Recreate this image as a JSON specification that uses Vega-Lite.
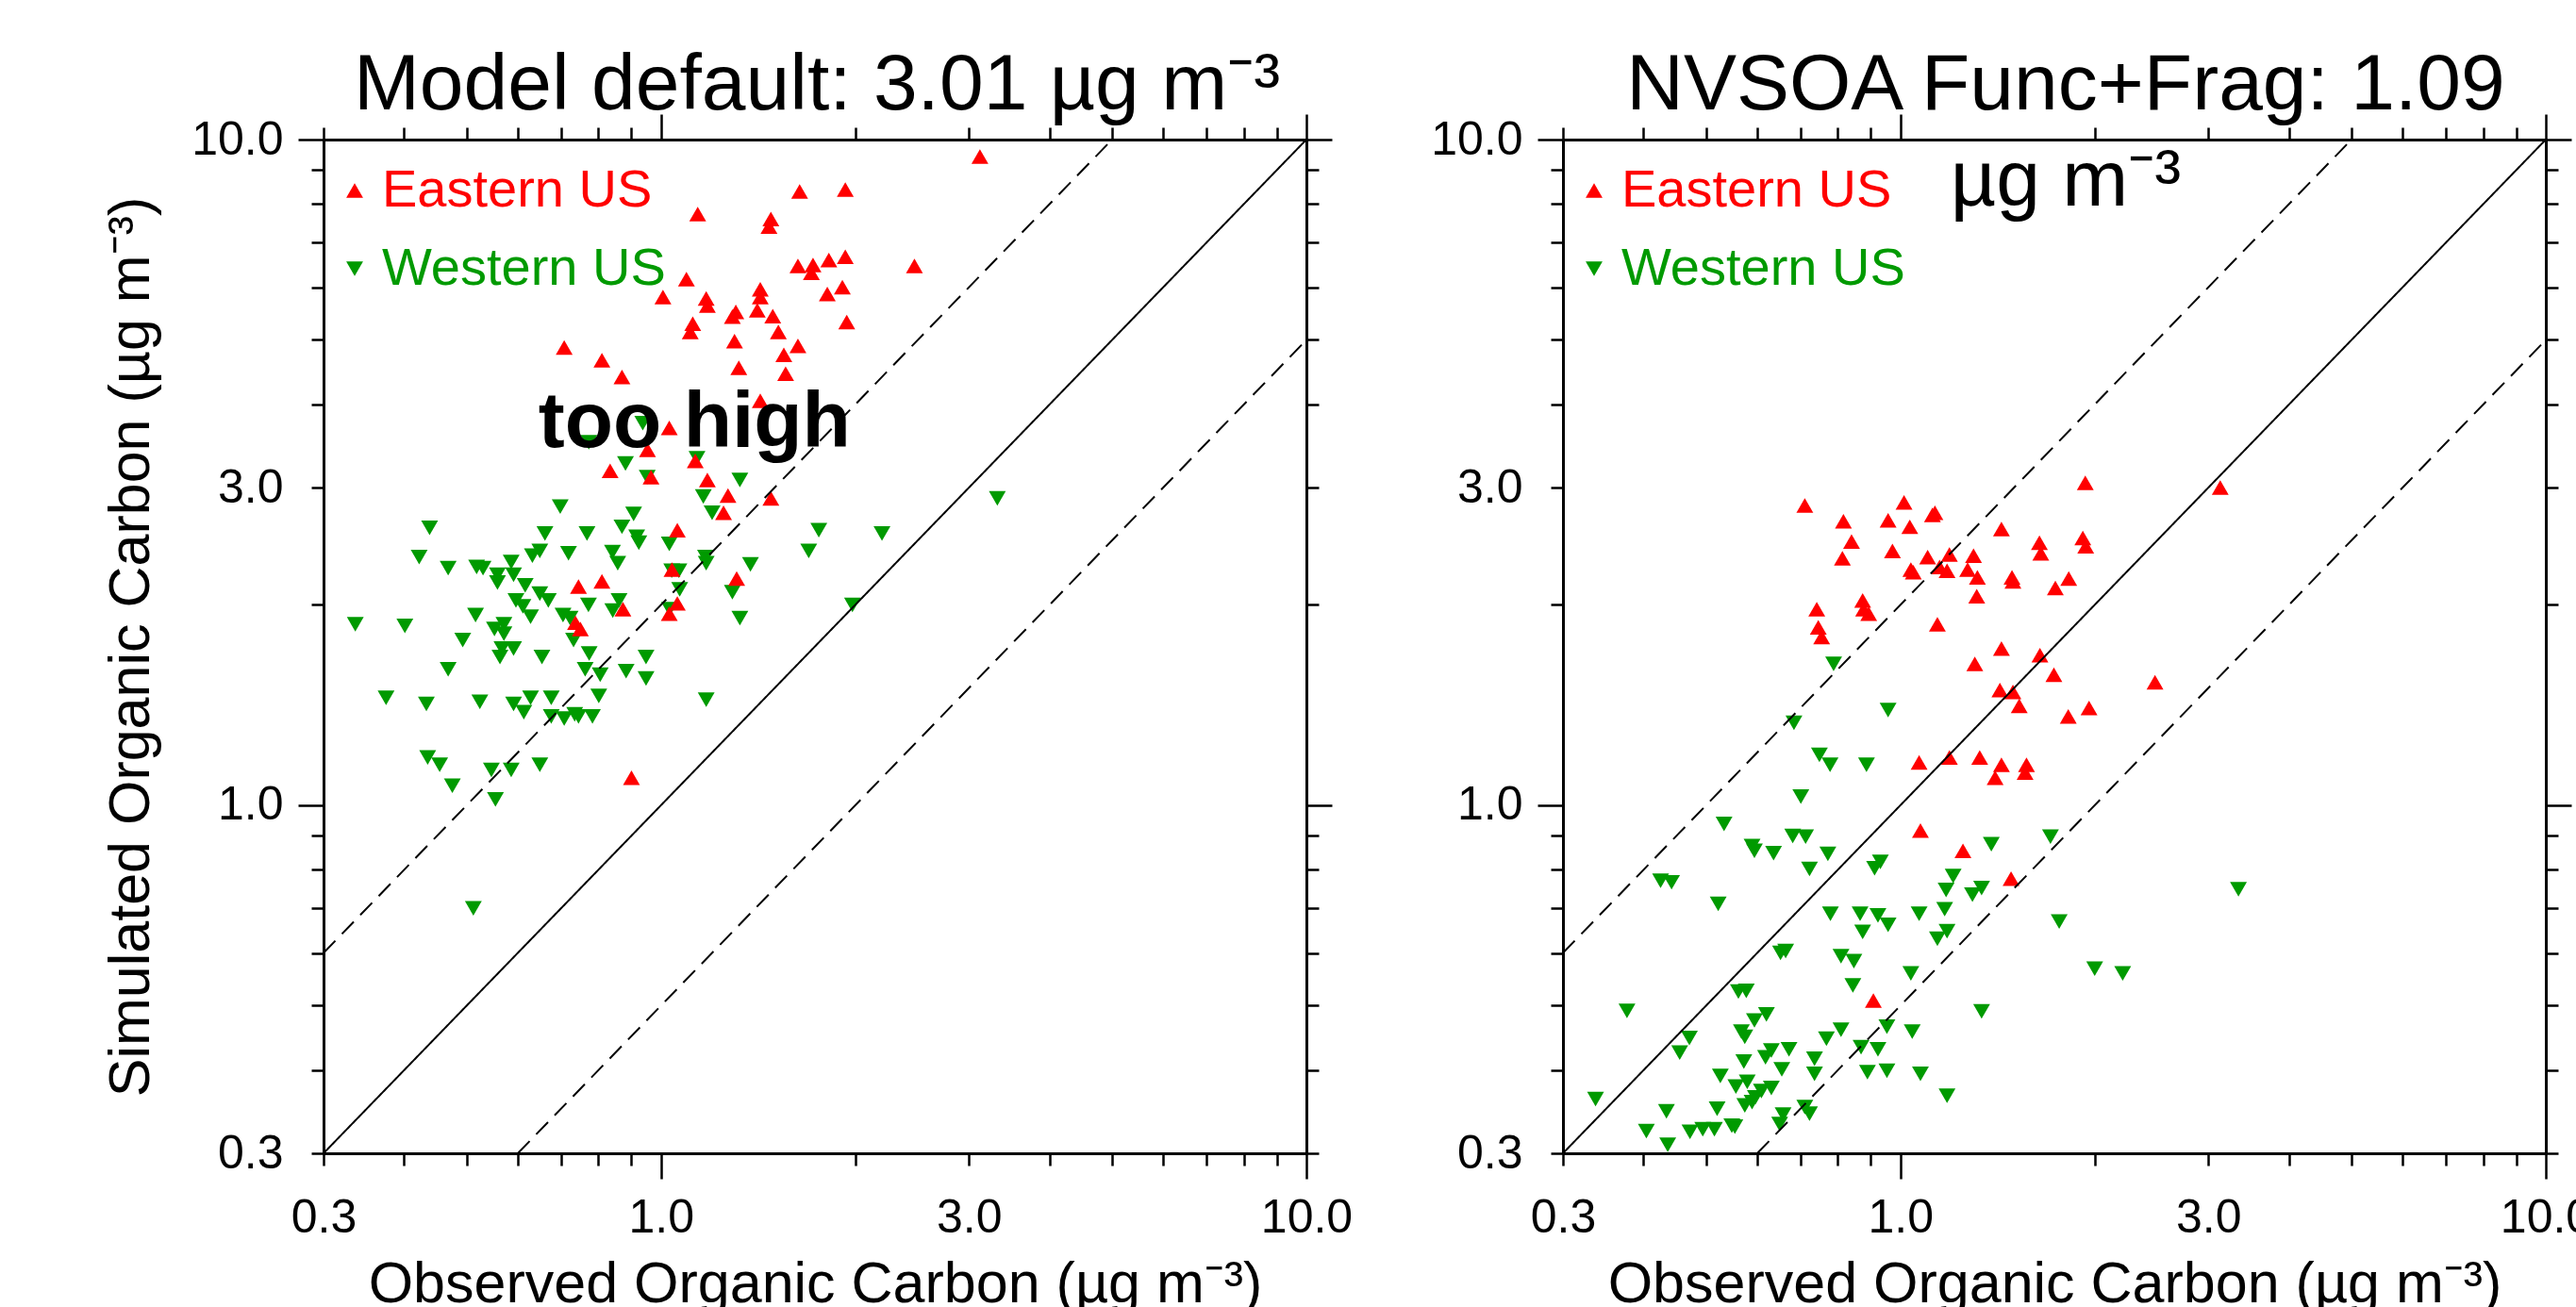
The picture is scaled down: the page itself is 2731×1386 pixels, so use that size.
{
  "$schema": "https://vega.github.io/schema/vega-lite/v6.json",
  "padding": {"left": 108, "top": 48, "right": 0, "bottom": 0},
  "background": "white",
  "config": {
    "view": {"stroke": null},
    "font": "Liberation Sans",
    "axis": {"labelFont": "Liberation Sans", "labelFontSize": 50, "labelColor": "black", "titleFont": "Liberation Sans", "titleFontSize": 61, "titleFontWeight": "normal", "titleColor": "black", "domainColor": "black", "domainWidth": 3, "tickColor": "black", "tickWidth": 2.5, "grid": false},
    "title": {"font": "Liberation Sans", "fontSize": 84, "fontWeight": "normal", "color": "black"}
  },
  "datasets": {
    "lines": [
      {"x": 0.3, "y": 0.3, "line": "1:1"}, {"x": 10, "y": 10, "line": "1:1"},
      {"x": 0.3, "y": 0.6, "line": "2:1"}, {"x": 5, "y": 10, "line": "2:1"},
      {"x": 0.6, "y": 0.3, "line": "1:2"}, {"x": 10, "y": 5, "line": "1:2"}
    ],
    "left": [
      {"obs":0.937,"sim":3.75,"region":"Western US"},{"obs":0.773,"sim":3.51,"region":"Western US"},{"obs":0.881,"sim":3.26,"region":"Western US"},{"obs":1.137,"sim":3.32,"region":"Western US"},{"obs":0.952,"sim":3.11,"region":"Western US"},{"obs":1.325,"sim":3.08,"region":"Western US"},{"obs":1.163,"sim":2.91,"region":"Western US"},{"obs":1.20,"sim":2.75,"region":"Western US"},{"obs":0.698,"sim":2.81,"region":"Western US"},{"obs":0.907,"sim":2.74,"region":"Western US"},{"obs":0.438,"sim":2.61,"region":"Western US"},{"obs":0.661,"sim":2.56,"region":"Western US"},{"obs":0.768,"sim":2.56,"region":"Western US"},{"obs":0.870,"sim":2.62,"region":"Western US"},{"obs":0.917,"sim":2.53,"region":"Western US"},{"obs":0.924,"sim":2.48,"region":"Western US"},{"obs":1.03,"sim":2.47,"region":"Western US"},{"obs":1.756,"sim":2.59,"region":"Western US"},{"obs":2.20,"sim":2.56,"region":"Western US"},{"obs":1.694,"sim":2.41,"region":"Western US"},{"obs":0.422,"sim":2.36,"region":"Western US"},{"obs":0.468,"sim":2.27,"region":"Western US"},{"obs":0.518,"sim":2.28,"region":"Western US"},{"obs":0.530,"sim":2.27,"region":"Western US"},{"obs":0.586,"sim":2.32,"region":"Western US"},{"obs":0.558,"sim":2.22,"region":"Western US"},{"obs":0.558,"sim":2.16,"region":"Western US"},{"obs":0.591,"sim":2.22,"region":"Western US"},{"obs":0.632,"sim":2.37,"region":"Western US"},{"obs":0.649,"sim":2.41,"region":"Western US"},{"obs":0.719,"sim":2.39,"region":"Western US"},{"obs":0.841,"sim":2.40,"region":"Western US"},{"obs":0.857,"sim":2.31,"region":"Western US"},{"obs":1.172,"sim":2.36,"region":"Western US"},{"obs":1.175,"sim":2.31,"region":"Western US"},{"obs":1.039,"sim":2.25,"region":"Western US"},{"obs":1.066,"sim":2.25,"region":"Western US"},{"obs":1.376,"sim":2.30,"region":"Western US"},{"obs":0.616,"sim":2.14,"region":"Western US"},{"obs":0.649,"sim":2.08,"region":"Western US"},{"obs":0.669,"sim":2.03,"region":"Western US"},{"obs":0.596,"sim":2.03,"region":"Western US"},{"obs":0.611,"sim":1.99,"region":"Western US"},{"obs":0.628,"sim":1.92,"region":"Western US"},{"obs":0.772,"sim":2.00,"region":"Western US"},{"obs":0.861,"sim":2.03,"region":"Western US"},{"obs":0.842,"sim":1.96,"region":"Western US"},{"obs":1.069,"sim":2.11,"region":"Western US"},{"obs":1.29,"sim":2.09,"region":"Western US"},{"obs":1.98,"sim":2.00,"region":"Western US"},{"obs":1.031,"sim":1.97,"region":"Western US"},{"obs":1.325,"sim":1.91,"region":"Western US"},{"obs":0.336,"sim":1.87,"region":"Western US"},{"obs":0.401,"sim":1.86,"region":"Western US"},{"obs":0.516,"sim":1.93,"region":"Western US"},{"obs":0.552,"sim":1.84,"region":"Western US"},{"obs":0.571,"sim":1.87,"region":"Western US"},{"obs":0.571,"sim":1.81,"region":"Western US"},{"obs":0.705,"sim":1.93,"region":"Western US"},{"obs":0.723,"sim":1.91,"region":"Western US"},{"obs":0.493,"sim":1.77,"region":"Western US"},{"obs":0.567,"sim":1.72,"region":"Western US"},{"obs":0.591,"sim":1.72,"region":"Western US"},{"obs":0.563,"sim":1.67,"region":"Western US"},{"obs":0.732,"sim":1.77,"region":"Western US"},{"obs":0.654,"sim":1.67,"region":"Western US"},{"obs":0.774,"sim":1.69,"region":"Western US"},{"obs":0.948,"sim":1.67,"region":"Western US"},{"obs":0.468,"sim":1.60,"region":"Western US"},{"obs":0.763,"sim":1.60,"region":"Western US"},{"obs":0.805,"sim":1.57,"region":"Western US"},{"obs":0.883,"sim":1.59,"region":"Western US"},{"obs":0.948,"sim":1.55,"region":"Western US"},{"obs":0.375,"sim":1.45,"region":"Western US"},{"obs":0.433,"sim":1.42,"region":"Western US"},{"obs":0.524,"sim":1.43,"region":"Western US"},{"obs":0.591,"sim":1.42,"region":"Western US"},{"obs":0.628,"sim":1.45,"region":"Western US"},{"obs":0.613,"sim":1.38,"region":"Western US"},{"obs":0.676,"sim":1.45,"region":"Western US"},{"obs":0.676,"sim":1.36,"region":"Western US"},{"obs":0.708,"sim":1.35,"region":"Western US"},{"obs":0.735,"sim":1.37,"region":"Western US"},{"obs":0.745,"sim":1.36,"region":"Western US"},{"obs":0.783,"sim":1.36,"region":"Western US"},{"obs":0.801,"sim":1.46,"region":"Western US"},{"obs":1.175,"sim":1.44,"region":"Western US"},{"obs":0.435,"sim":1.18,"region":"Western US"},{"obs":0.454,"sim":1.15,"region":"Western US"},{"obs":0.546,"sim":1.13,"region":"Western US"},{"obs":0.586,"sim":1.13,"region":"Western US"},{"obs":0.649,"sim":1.15,"region":"Western US"},{"obs":0.475,"sim":1.07,"region":"Western US"},{"obs":0.554,"sim":1.02,"region":"Western US"},{"obs":0.512,"sim":0.70,"region":"Western US"},{"obs":3.32,"sim":2.89,"region":"Western US"},
      {"obs":3.12,"sim":9.43,"region":"Eastern US"},{"obs":1.64,"sim":8.36,"region":"Eastern US"},{"obs":1.93,"sim":8.41,"region":"Eastern US"},{"obs":1.14,"sim":7.73,"region":"Eastern US"},{"obs":1.48,"sim":7.6,"region":"Eastern US"},{"obs":1.47,"sim":7.4,"region":"Eastern US"},{"obs":1.63,"sim":6.46,"region":"Eastern US"},{"obs":1.72,"sim":6.48,"region":"Eastern US"},{"obs":1.71,"sim":6.31,"region":"Eastern US"},{"obs":1.82,"sim":6.59,"region":"Eastern US"},{"obs":1.93,"sim":6.67,"region":"Eastern US"},{"obs":2.47,"sim":6.46,"region":"Eastern US"},{"obs":1.095,"sim":6.17,"region":"Eastern US"},{"obs":1.007,"sim":5.80,"region":"Eastern US"},{"obs":1.175,"sim":5.77,"region":"Eastern US"},{"obs":1.18,"sim":5.63,"region":"Eastern US"},{"obs":1.425,"sim":5.96,"region":"Eastern US"},{"obs":1.425,"sim":5.80,"region":"Eastern US"},{"obs":1.306,"sim":5.51,"region":"Eastern US"},{"obs":1.29,"sim":5.42,"region":"Eastern US"},{"obs":1.41,"sim":5.54,"region":"Eastern US"},{"obs":1.49,"sim":5.43,"region":"Eastern US"},{"obs":1.81,"sim":5.86,"region":"Eastern US"},{"obs":1.91,"sim":6.0,"region":"Eastern US"},{"obs":1.94,"sim":5.32,"region":"Eastern US"},{"obs":1.12,"sim":5.29,"region":"Eastern US"},{"obs":1.11,"sim":5.14,"region":"Eastern US"},{"obs":1.30,"sim":4.98,"region":"Eastern US"},{"obs":1.52,"sim":5.14,"region":"Eastern US"},{"obs":1.63,"sim":4.90,"region":"Eastern US"},{"obs":1.55,"sim":4.75,"region":"Eastern US"},{"obs":0.708,"sim":4.87,"region":"Eastern US"},{"obs":0.81,"sim":4.66,"region":"Eastern US"},{"obs":0.87,"sim":4.40,"region":"Eastern US"},{"obs":1.32,"sim":4.54,"region":"Eastern US"},{"obs":1.56,"sim":4.45,"region":"Eastern US"},{"obs":1.425,"sim":4.05,"region":"Eastern US"},{"obs":1.03,"sim":3.69,"region":"Eastern US"},{"obs":0.953,"sim":3.42,"region":"Eastern US"},{"obs":1.13,"sim":3.29,"region":"Eastern US"},{"obs":0.834,"sim":3.18,"region":"Eastern US"},{"obs":0.965,"sim":3.11,"region":"Eastern US"},{"obs":1.18,"sim":3.08,"region":"Eastern US"},{"obs":1.27,"sim":2.92,"region":"Eastern US"},{"obs":1.25,"sim":2.75,"region":"Eastern US"},{"obs":1.48,"sim":2.89,"region":"Eastern US"},{"obs":1.06,"sim":2.59,"region":"Eastern US"},{"obs":0.745,"sim":2.13,"region":"Eastern US"},{"obs":0.81,"sim":2.17,"region":"Eastern US"},{"obs":1.31,"sim":2.19,"region":"Eastern US"},{"obs":1.04,"sim":2.26,"region":"Eastern US"},{"obs":1.06,"sim":2.01,"region":"Eastern US"},{"obs":1.03,"sim":1.94,"region":"Eastern US"},{"obs":0.873,"sim":1.97,"region":"Eastern US"},{"obs":0.737,"sim":1.88,"region":"Eastern US"},{"obs":0.75,"sim":1.84,"region":"Eastern US"},{"obs":0.90,"sim":1.10,"region":"Eastern US"}
    ],
    "right": [
      {"obs":0.788,"sim":1.63,"region":"Western US"},{"obs":0.957,"sim":1.39,"region":"Western US"},{"obs":0.684,"sim":1.33,"region":"Western US"},{"obs":0.749,"sim":1.19,"region":"Western US"},{"obs":0.778,"sim":1.15,"region":"Western US"},{"obs":0.886,"sim":1.15,"region":"Western US"},{"obs":0.701,"sim":1.03,"region":"Western US"},{"obs":0.533,"sim":0.937,"region":"Western US"},{"obs":0.681,"sim":0.899,"region":"Western US"},{"obs":0.713,"sim":0.897,"region":"Western US"},{"obs":0.589,"sim":0.868,"region":"Western US"},{"obs":0.594,"sim":0.854,"region":"Western US"},{"obs":0.636,"sim":0.847,"region":"Western US"},{"obs":0.772,"sim":0.845,"region":"Western US"},{"obs":0.723,"sim":0.802,"region":"Western US"},{"obs":0.931,"sim":0.822,"region":"Western US"},{"obs":0.912,"sim":0.804,"region":"Western US"},{"obs":1.383,"sim":0.874,"region":"Western US"},{"obs":1.708,"sim":0.897,"region":"Western US"},{"obs":0.425,"sim":0.770,"region":"Western US"},{"obs":0.442,"sim":0.766,"region":"Western US"},{"obs":0.522,"sim":0.711,"region":"Western US"},{"obs":1.207,"sim":0.783,"region":"Western US"},{"obs":1.177,"sim":0.746,"region":"Western US"},{"obs":1.293,"sim":0.734,"region":"Western US"},{"obs":1.336,"sim":0.751,"region":"Western US"},{"obs":3.34,"sim":0.748,"region":"Western US"},{"obs":0.779,"sim":0.687,"region":"Western US"},{"obs":0.866,"sim":0.687,"region":"Western US"},{"obs":0.923,"sim":0.683,"region":"Western US"},{"obs":0.957,"sim":0.661,"region":"Western US"},{"obs":0.874,"sim":0.645,"region":"Western US"},{"obs":1.069,"sim":0.687,"region":"Western US"},{"obs":1.171,"sim":0.698,"region":"Western US"},{"obs":1.181,"sim":0.647,"region":"Western US"},{"obs":1.141,"sim":0.630,"region":"Western US"},{"obs":1.762,"sim":0.669,"region":"Western US"},{"obs":0.652,"sim":0.600,"region":"Western US"},{"obs":0.664,"sim":0.604,"region":"Western US"},{"obs":0.809,"sim":0.593,"region":"Western US"},{"obs":0.847,"sim":0.583,"region":"Western US"},{"obs":1.038,"sim":0.559,"region":"Western US"},{"obs":0.844,"sim":0.536,"region":"Western US"},{"obs":2.00,"sim":0.568,"region":"Western US"},{"obs":2.21,"sim":0.559,"region":"Western US"},{"obs":0.561,"sim":0.525,"region":"Western US"},{"obs":0.577,"sim":0.526,"region":"Western US"},{"obs":0.377,"sim":0.491,"region":"Western US"},{"obs":1.336,"sim":0.490,"region":"Western US"},{"obs":0.620,"sim":0.485,"region":"Western US"},{"obs":0.594,"sim":0.475,"region":"Western US"},{"obs":0.567,"sim":0.457,"region":"Western US"},{"obs":0.574,"sim":0.449,"region":"Western US"},{"obs":0.471,"sim":0.447,"region":"Western US"},{"obs":0.455,"sim":0.425,"region":"Western US"},{"obs":0.768,"sim":0.446,"region":"Western US"},{"obs":0.809,"sim":0.460,"region":"Western US"},{"obs":0.953,"sim":0.465,"region":"Western US"},{"obs":1.043,"sim":0.457,"region":"Western US"},{"obs":0.869,"sim":0.433,"region":"Western US"},{"obs":0.923,"sim":0.430,"region":"Western US"},{"obs":0.631,"sim":0.428,"region":"Western US"},{"obs":0.672,"sim":0.430,"region":"Western US"},{"obs":0.618,"sim":0.418,"region":"Western US"},{"obs":0.736,"sim":0.416,"region":"Western US"},{"obs":0.572,"sim":0.412,"region":"Western US"},{"obs":0.655,"sim":0.401,"region":"Western US"},{"obs":0.736,"sim":0.395,"region":"Western US"},{"obs":0.889,"sim":0.397,"region":"Western US"},{"obs":0.953,"sim":0.399,"region":"Western US"},{"obs":1.074,"sim":0.395,"region":"Western US"},{"obs":0.526,"sim":0.392,"region":"Western US"},{"obs":0.556,"sim":0.378,"region":"Western US"},{"obs":0.579,"sim":0.384,"region":"Western US"},{"obs":0.609,"sim":0.372,"region":"Western US"},{"obs":0.631,"sim":0.376,"region":"Western US"},{"obs":0.596,"sim":0.364,"region":"Western US"},{"obs":0.574,"sim":0.354,"region":"Western US"},{"obs":0.589,"sim":0.358,"region":"Western US"},{"obs":1.181,"sim":0.366,"region":"Western US"},{"obs":0.337,"sim":0.362,"region":"Western US"},{"obs":0.434,"sim":0.347,"region":"Western US"},{"obs":0.520,"sim":0.350,"region":"Western US"},{"obs":0.658,"sim":0.343,"region":"Western US"},{"obs":0.650,"sim":0.332,"region":"Western US"},{"obs":0.711,"sim":0.352,"region":"Western US"},{"obs":0.723,"sim":0.344,"region":"Western US"},{"obs":0.404,"sim":0.324,"region":"Western US"},{"obs":0.472,"sim":0.323,"region":"Western US"},{"obs":0.494,"sim":0.326,"region":"Western US"},{"obs":0.515,"sim":0.326,"region":"Western US"},{"obs":0.548,"sim":0.330,"region":"Western US"},{"obs":0.554,"sim":0.329,"region":"Western US"},{"obs":0.436,"sim":0.309,"region":"Western US"},
      {"obs":0.711,"sim":2.82,"region":"Eastern US"},{"obs":1.013,"sim":2.85,"region":"Eastern US"},{"obs":0.816,"sim":2.67,"region":"Eastern US"},{"obs":0.957,"sim":2.68,"region":"Eastern US"},{"obs":1.034,"sim":2.62,"region":"Eastern US"},{"obs":1.121,"sim":2.73,"region":"Eastern US"},{"obs":1.131,"sim":2.75,"region":"Eastern US"},{"obs":1.434,"sim":2.60,"region":"Eastern US"},{"obs":1.934,"sim":3.05,"region":"Eastern US"},{"obs":3.13,"sim":3.00,"region":"Eastern US"},{"obs":0.840,"sim":2.49,"region":"Eastern US"},{"obs":0.972,"sim":2.41,"region":"Eastern US"},{"obs":0.813,"sim":2.35,"region":"Eastern US"},{"obs":1.102,"sim":2.36,"region":"Eastern US"},{"obs":1.191,"sim":2.38,"region":"Eastern US"},{"obs":1.298,"sim":2.37,"region":"Eastern US"},{"obs":1.150,"sim":2.28,"region":"Eastern US"},{"obs":1.181,"sim":2.25,"region":"Eastern US"},{"obs":1.038,"sim":2.26,"region":"Eastern US"},{"obs":1.047,"sim":2.24,"region":"Eastern US"},{"obs":1.271,"sim":2.26,"region":"Eastern US"},{"obs":1.316,"sim":2.20,"region":"Eastern US"},{"obs":1.642,"sim":2.48,"region":"Eastern US"},{"obs":1.650,"sim":2.39,"region":"Eastern US"},{"obs":1.917,"sim":2.52,"region":"Eastern US"},{"obs":1.937,"sim":2.45,"region":"Eastern US"},{"obs":1.489,"sim":2.20,"region":"Eastern US"},{"obs":1.494,"sim":2.17,"region":"Eastern US"},{"obs":1.823,"sim":2.19,"region":"Eastern US"},{"obs":1.738,"sim":2.12,"region":"Eastern US"},{"obs":1.313,"sim":2.06,"region":"Eastern US"},{"obs":0.742,"sim":1.97,"region":"Eastern US"},{"obs":0.874,"sim":2.03,"region":"Eastern US"},{"obs":0.877,"sim":1.97,"region":"Eastern US"},{"obs":0.893,"sim":1.94,"region":"Eastern US"},{"obs":0.746,"sim":1.85,"region":"Eastern US"},{"obs":0.755,"sim":1.79,"region":"Eastern US"},{"obs":1.141,"sim":1.87,"region":"Eastern US"},{"obs":1.434,"sim":1.72,"region":"Eastern US"},{"obs":1.645,"sim":1.68,"region":"Eastern US"},{"obs":1.304,"sim":1.63,"region":"Eastern US"},{"obs":1.729,"sim":1.57,"region":"Eastern US"},{"obs":2.48,"sim":1.53,"region":"Eastern US"},{"obs":1.426,"sim":1.49,"region":"Eastern US"},{"obs":1.494,"sim":1.48,"region":"Eastern US"},{"obs":1.528,"sim":1.41,"region":"Eastern US"},{"obs":1.82,"sim":1.36,"region":"Eastern US"},{"obs":1.96,"sim":1.40,"region":"Eastern US"},{"obs":1.069,"sim":1.16,"region":"Eastern US"},{"obs":1.191,"sim":1.18,"region":"Eastern US"},{"obs":1.327,"sim":1.18,"region":"Eastern US"},{"obs":1.434,"sim":1.15,"region":"Eastern US"},{"obs":1.402,"sim":1.10,"region":"Eastern US"},{"obs":1.568,"sim":1.15,"region":"Eastern US"},{"obs":1.56,"sim":1.12,"region":"Eastern US"},{"obs":1.074,"sim":0.916,"region":"Eastern US"},{"obs":1.25,"sim":0.854,"region":"Eastern US"},{"obs":1.484,"sim":0.776,"region":"Eastern US"},{"obs":0.908,"sim":0.509,"region":"Eastern US"}
    ]
  },
  "hconcat": [
    {
      "width": 1042,
      "height": 1075,
      "title": {"text": "Model default: 3.01 µg m⁻³", "anchor": "middle", "frame": "group", "baseline": "alphabetic", "offset": -80, "dx": 2},
      "layer": [
        {
          "data": {"name": "left"},
          "mark": {"type": "point", "filled": true, "size": 320, "opacity": 1},
          "encoding": {
            "x": {"field": "obs", "type": "quantitative", "scale": {"type": "log", "domain": [0.3, 10], "nice": false, "zero": false},
              "axis": {"orient": "bottom", "values": [0.3,0.4,0.5,0.6,0.7,0.8,0.9,1,2,3,4,5,6,7,8,9,10],
                "labelExpr": "(datum.value == 0.3 || datum.value == 1 || datum.value == 3 || datum.value == 10) ? format(datum.value, '.1f') : ''",
                "tickSize": {"condition": {"test": "datum.value == 1 || datum.value == 10", "value": 27}, "value": 13},
                "labelPadding": {"condition": {"test": "datum.value == 1 || datum.value == 10", "value": 16}, "value": 30},
                "labelFlush": false, "labelOverlap": false, "title": "Observed Organic Carbon (µg m⁻³)", "titlePadding": 16}},
            "y": {"field": "sim", "type": "quantitative", "scale": {"type": "log", "domain": [0.3, 10], "nice": false, "zero": false},
              "axis": {"orient": "left", "values": [0.3,0.4,0.5,0.6,0.7,0.8,0.9,1,2,3,4,5,6,7,8,9,10],
                "labelExpr": "(datum.value == 0.3 || datum.value == 1 || datum.value == 3 || datum.value == 10) ? format(datum.value, '.1f') : ''",
                "tickSize": {"condition": {"test": "datum.value == 1 || datum.value == 10", "value": 27}, "value": 13},
                "labelPadding": {"condition": {"test": "datum.value == 1 || datum.value == 10", "value": 16}, "value": 30},
                "labelFlush": false, "labelOverlap": false, "title": "Simulated Organic Carbon (µg m⁻³)", "titlePadding": 32}},
            "color": {"field": "region", "type": "nominal", "scale": {"domain": ["Eastern US", "Western US"], "range": ["#ff0000", "#009a00"]},
              "legend": {"title": null, "orient": "none", "legendX": 5, "legendY": 26, "padding": 0, "labelFontSize": 56, "labelFont": "Liberation Sans", "labelLimit": 0, "symbolSize": 320, "labelOffset": 1, "rowPadding": 27, "symbolStrokeWidth": 0, "labelColor": {"expr": "datum.label == 'Eastern US' ? '#ff0000' : '#009a00'"}}},
            "shape": {"field": "region", "type": "nominal", "scale": {"domain": ["Eastern US", "Western US"], "range": ["triangle-up", "triangle-down"]},
              "legend": {"title": null, "orient": "none", "legendX": 5, "legendY": 26, "padding": 0, "labelFontSize": 56, "labelFont": "Liberation Sans", "labelLimit": 0, "symbolSize": 320, "labelOffset": 1, "rowPadding": 27, "symbolStrokeWidth": 0, "labelColor": {"expr": "datum.label == 'Eastern US' ? '#ff0000' : '#009a00'"}}}
          }
        },
        {
          "data": {"name": "lines"},
          "mark": {"type": "line", "color": "black", "strokeWidth": 2, "clip": true},
          "encoding": {
            "x": {"field": "x", "type": "quantitative",
              "axis": {"orient": "top", "values": [0.3,0.4,0.5,0.6,0.7,0.8,0.9,1,2,3,4,5,6,7,8,9,10], "labels": false, "title": null,
                "tickSize": {"condition": {"test": "datum.value == 1 || datum.value == 10", "value": 27}, "value": 13}}},
            "y": {"field": "y", "type": "quantitative",
              "axis": {"orient": "right", "values": [0.3,0.4,0.5,0.6,0.7,0.8,0.9,1,2,3,4,5,6,7,8,9,10], "labels": false, "title": null,
                "tickSize": {"condition": {"test": "datum.value == 1 || datum.value == 10", "value": 27}, "value": 13}}},
            "strokeDash": {"field": "line", "type": "nominal", "scale": {"domain": ["1:1", "2:1", "1:2"], "range": [[1, 0], [18, 10], [18, 10]]}, "legend": null}
          }
        },
        {
          "data": {"values": [{"label": "too high"}]},
          "mark": {"type": "text", "fontSize": 84, "fontWeight": "bold", "align": "center", "baseline": "alphabetic", "color": "black", "font": "Liberation Sans"},
          "encoding": {
            "x": {"datum": 1.127, "type": "quantitative", "axis": null},
            "y": {"datum": 3.45, "type": "quantitative", "axis": null},
            "text": {"field": "label"}
          }
        }
      ],
      "resolve": {"axis": {"x": "independent", "y": "independent"}}
    },
    {
      "width": 1042,
      "height": 1075,
      "title": {"text": ["NVSOA Func+Frag: 1.09", "µg m⁻³"], "anchor": "middle", "frame": "group", "baseline": "alphabetic", "offset": -182, "dx": 12, "lineHeight": 102},
      "layer": [
        {
          "data": {"name": "right"},
          "mark": {"type": "point", "filled": true, "size": 320, "opacity": 1},
          "encoding": {
            "x": {"field": "obs", "type": "quantitative", "scale": {"type": "log", "domain": [0.3, 10], "nice": false, "zero": false},
              "axis": {"orient": "bottom", "values": [0.3,0.4,0.5,0.6,0.7,0.8,0.9,1,2,3,4,5,6,7,8,9,10],
                "labelExpr": "(datum.value == 0.3 || datum.value == 1 || datum.value == 3 || datum.value == 10) ? format(datum.value, '.1f') : ''",
                "tickSize": {"condition": {"test": "datum.value == 1 || datum.value == 10", "value": 27}, "value": 13},
                "labelPadding": {"condition": {"test": "datum.value == 1 || datum.value == 10", "value": 16}, "value": 30},
                "labelFlush": false, "labelOverlap": false, "title": "Observed Organic Carbon (µg m⁻³)", "titlePadding": 16}},
            "y": {"field": "sim", "type": "quantitative", "scale": {"type": "log", "domain": [0.3, 10], "nice": false, "zero": false},
              "axis": {"orient": "left", "values": [0.3,0.4,0.5,0.6,0.7,0.8,0.9,1,2,3,4,5,6,7,8,9,10],
                "labelExpr": "(datum.value == 0.3 || datum.value == 1 || datum.value == 3 || datum.value == 10) ? format(datum.value, '.1f') : ''",
                "tickSize": {"condition": {"test": "datum.value == 1 || datum.value == 10", "value": 27}, "value": 13},
                "labelPadding": {"condition": {"test": "datum.value == 1 || datum.value == 10", "value": 16}, "value": 30},
                "labelFlush": false, "labelOverlap": false, "title": null}},
            "color": {"field": "region", "type": "nominal", "scale": {"domain": ["Eastern US", "Western US"], "range": ["#ff0000", "#009a00"]},
              "legend": {"title": null, "orient": "none", "legendX": 5, "legendY": 26, "padding": 0, "labelFontSize": 56, "labelFont": "Liberation Sans", "labelLimit": 0, "symbolSize": 320, "labelOffset": 1, "rowPadding": 27, "symbolStrokeWidth": 0, "labelColor": {"expr": "datum.label == 'Eastern US' ? '#ff0000' : '#009a00'"}}},
            "shape": {"field": "region", "type": "nominal", "scale": {"domain": ["Eastern US", "Western US"], "range": ["triangle-up", "triangle-down"]},
              "legend": {"title": null, "orient": "none", "legendX": 5, "legendY": 26, "padding": 0, "labelFontSize": 56, "labelFont": "Liberation Sans", "labelLimit": 0, "symbolSize": 320, "labelOffset": 1, "rowPadding": 27, "symbolStrokeWidth": 0, "labelColor": {"expr": "datum.label == 'Eastern US' ? '#ff0000' : '#009a00'"}}}
          }
        },
        {
          "data": {"name": "lines"},
          "mark": {"type": "line", "color": "black", "strokeWidth": 2, "clip": true},
          "encoding": {
            "x": {"field": "x", "type": "quantitative",
              "axis": {"orient": "top", "values": [0.3,0.4,0.5,0.6,0.7,0.8,0.9,1,2,3,4,5,6,7,8,9,10], "labels": false, "title": null,
                "tickSize": {"condition": {"test": "datum.value == 1 || datum.value == 10", "value": 27}, "value": 13}}},
            "y": {"field": "y", "type": "quantitative",
              "axis": {"orient": "right", "values": [0.3,0.4,0.5,0.6,0.7,0.8,0.9,1,2,3,4,5,6,7,8,9,10], "labels": false, "title": null,
                "tickSize": {"condition": {"test": "datum.value == 1 || datum.value == 10", "value": 27}, "value": 13}}},
            "strokeDash": {"field": "line", "type": "nominal", "scale": {"domain": ["1:1", "2:1", "1:2"], "range": [[1, 0], [18, 10], [18, 10]]}, "legend": null}
          }
        }
      ],
      "resolve": {"axis": {"x": "independent", "y": "independent"}}
    }
  ],
  "spacing": 272,
  "bounds": "flush",
  "resolve": {"scale": {"x": "independent", "y": "independent", "color": "independent", "shape": "independent", "strokeDash": "independent"}, "legend": {"color": "independent", "shape": "independent"}}
}
